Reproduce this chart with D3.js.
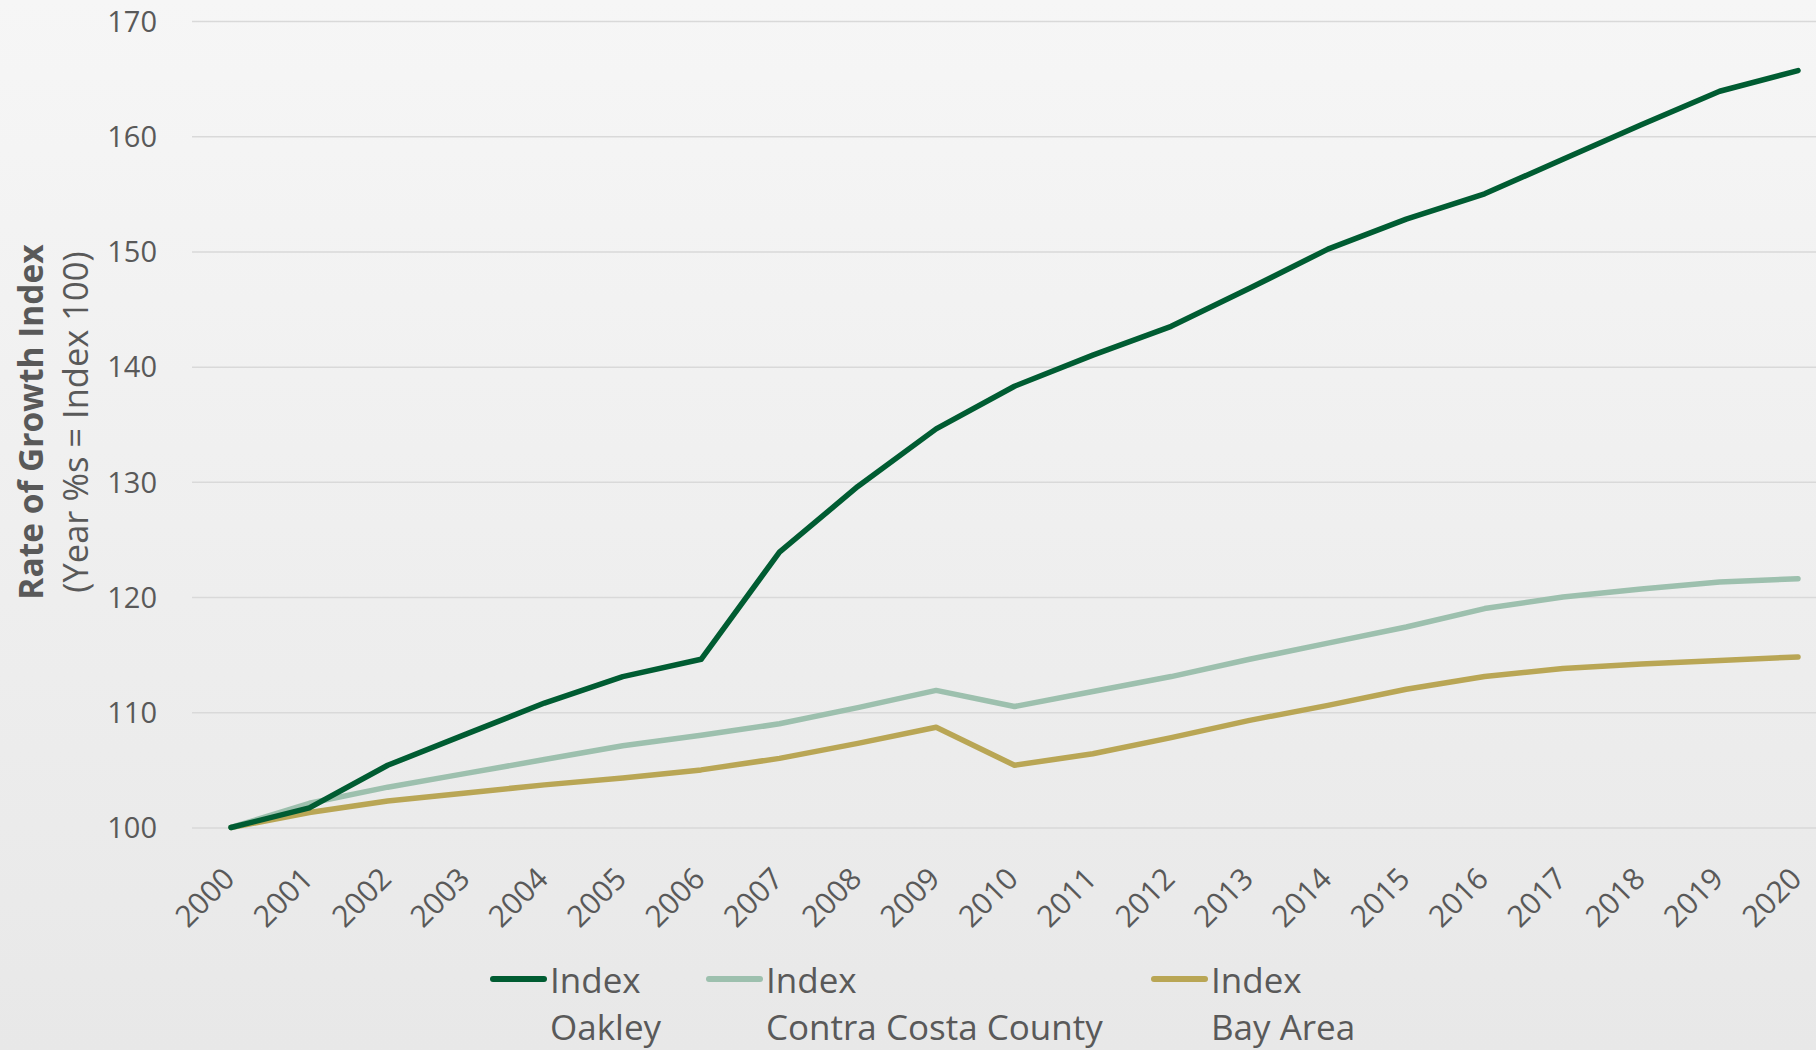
<!DOCTYPE html>
<html>
<head>
	<meta charset="utf-8">
	<script src="https://cdn.jsdelivr.net/npm/d3@7"></script>
	<style type="text/css">
		body {
			margin: 0; padding: 0;
			overflow: hidden;
		}
		svg text {
			font-family: "Open Sans", "Noto Sans", sans-serif;
			fill: #595959;
		}
	</style>
</head>
<body>
	<script type="text/javascript">

		// chart data
		var years = ["2000","2001","2002","2003","2004","2005","2006","2007","2008","2009","2010",
			"2011","2012","2013","2014","2015","2016","2017","2018","2019","2020"];
		var oakley = [100, 101.7, 105.4, 108.1, 110.8, 113.1, 114.6, 123.9, 129.6, 134.6, 138.3,
			141.0, 143.5, 146.8, 150.2, 152.8, 155.0, 158.0, 161.0, 163.9, 165.7];
		var contraCosta = [100, 102.1, 103.5, 104.7, 105.9, 107.1, 108.0, 109.0, 110.4, 111.9, 110.5,
			111.8, 113.1, 114.6, 116.0, 117.4, 119.0, 120.0, 120.7, 121.3, 121.6];
		var bayArea = [100, 101.3, 102.3, 103.0, 103.7, 104.3, 105.0, 106.0, 107.3, 108.7, 105.4,
			106.4, 107.8, 109.3, 110.6, 112.0, 113.1, 113.8, 114.2, 114.5, 114.8];
		var yTicks = [100, 110, 120, 130, 140, 150, 160, 170];
		var seriesNames = ["Oakley", "Contra Costa County", "Bay Area"];
		var seriesColors = ["#005c32", "#9dc0ae", "#b9a655"];

		var W = 1816, H = 1050;

		var svg = d3.select("body").append("svg")
			.attr("width", W)
			.attr("height", H);

		// background gradient
		var grad = svg.append("defs").append("linearGradient")
			.attr("id", "bg").attr("x1", 0).attr("y1", 0).attr("x2", 0).attr("y2", 1);
		grad.append("stop").attr("offset", "0%").attr("stop-color", "#f6f6f6");
		grad.append("stop").attr("offset", "100%").attr("stop-color", "#e8e8e8");
		svg.append("rect").attr("width", W).attr("height", H).attr("fill", "url(#bg)");

		// scales
		var x = d3.scalePoint().domain(years).range([231, 1798]);
		var y = d3.scaleLinear().domain([100, 170]).range([827.5, 21]);

		// gridlines + y labels
		var yAxis = svg.append("g")
			.attr("transform", "translate(192,0)")
			.call(d3.axisLeft(y).tickValues(yTicks).tickSize(-(W - 192)).tickPadding(35).tickFormat(d3.format("d")));
		yAxis.select(".domain").remove();
		yAxis.selectAll(".tick line").attr("stroke", "#d9d9d9").attr("stroke-width", 1.5);
		yAxis.selectAll(".tick text")
			.attr("font-size", 29)
			.attr("fill", "#595959")
			.attr("font-family", null)
			.attr("dy", "0.35em");

		// x labels, rotated
		var xAxis = svg.append("g")
			.attr("transform", "translate(0,827.5)")
			.call(d3.axisBottom(x).tickSize(0).tickPadding(0));
		xAxis.select(".domain").remove();
		xAxis.selectAll(".tick text")
			.attr("font-size", 30)
			.attr("fill", "#595959")
			.attr("font-family", null)
			.attr("text-anchor", "end")
			.attr("dy", null)
			.attr("y", 0)
			.attr("transform", "translate(5,53) rotate(-45)");

		// lines
		var line = d3.line()
			.x(function(d, i){ return x(years[i]); })
			.y(function(d){ return y(d); });

		var allSeries = [oakley, contraCosta, bayArea];
		// draw bay area first so oakley sits on top
		svg.selectAll("path.series")
			.data([2, 1, 0])
			.enter().append("path")
			.attr("class", "series")
			.attr("d", function(k){ return line(allSeries[k]); })
			.attr("fill", "none")
			.attr("stroke", function(k){ return seriesColors[k]; })
			.attr("stroke-width", 5.5)
			.attr("stroke-linejoin", "round")
			.attr("stroke-linecap", "round");

		// y axis title
		svg.append("text")
			.attr("transform", "translate(43,422) rotate(-90)")
			.attr("text-anchor", "middle")
			.attr("font-size", 33.5)
			.attr("font-weight", "bold")
			.text("Rate of Growth Index");
		svg.append("text")
			.attr("transform", "translate(88,422) rotate(-90)")
			.attr("text-anchor", "middle")
			.attr("font-size", 34.5)
			.text("(Year %s = Index 100)");

		// legend
		var legendX = [490, 706, 1151];
		var legend = svg.selectAll("g.legend")
			.data(seriesNames)
			.enter().append("g")
			.attr("class", "legend")
			.attr("transform", function(d, i){ return "translate(" + legendX[i] + ",979)"; });
		legend.append("line")
			.attr("x1", 3).attr("x2", 54)
			.attr("y1", 0).attr("y2", 0)
			.attr("stroke", function(d, i){ return seriesColors[i]; })
			.attr("stroke-width", 6)
			.attr("stroke-linecap", "round");
		legend.append("text")
			.attr("x", 60).attr("y", 14)
			.attr("font-size", 35)
			.text("Index");
		legend.append("text")
			.attr("x", 60).attr("y", 61)
			.attr("font-size", 35)
			.text(function(d){ return d; });

	</script>
</body>
</html>
